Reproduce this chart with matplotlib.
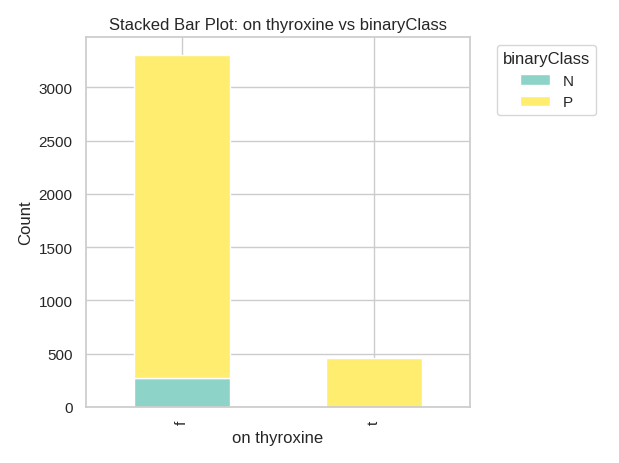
import matplotlib
matplotlib.use('Agg')
import matplotlib.pyplot as plt
import seaborn as sns
import pandas as pd

sns.set_theme(style="whitegrid")
plt.rcParams['font.family'] = ['Liberation Sans', 'DejaVu Sans']

categories = ["f", "t"]
n_counts = [275, 3]
p_counts = [3030, 460]

df = pd.DataFrame({"N": n_counts, "P": p_counts}, index=categories)
df.index.name = "on thyroxine"

fig, ax = plt.subplots(figsize=(6.19, 4.64), dpi=100)
df.plot(kind="bar", stacked=True, colormap="Set3", ax=ax)
ax.set_title("Stacked Bar Plot: on thyroxine vs binaryClass")
ax.set_xlabel("on thyroxine")
ax.set_ylabel("Count")
ax.legend(title="binaryClass", bbox_to_anchor=(1.05, 1), loc="upper left")
plt.tight_layout()
plt.savefig("out.png")
plt.close()
